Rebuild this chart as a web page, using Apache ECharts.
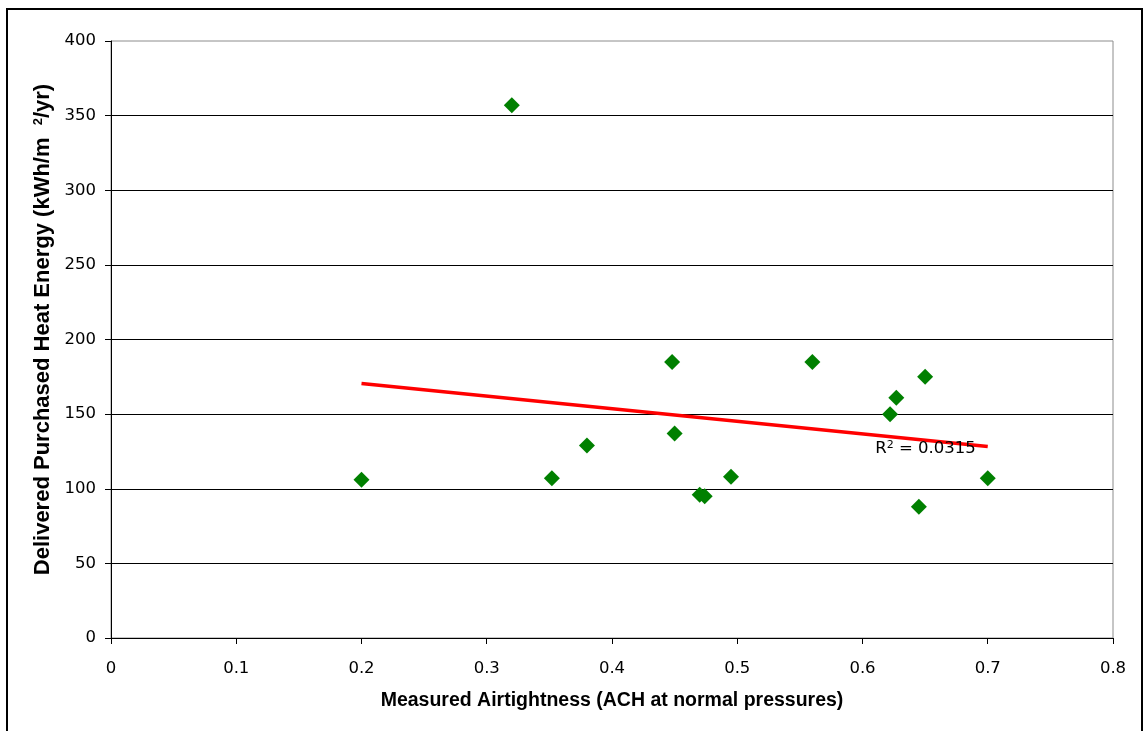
<!DOCTYPE html>
<html>
<head>
<meta charset="utf-8">
<script src="https://cdn.jsdelivr.net/npm/echarts@6/dist/echarts.min.js"></script>
<style>html,body{margin:0;padding:0;background:#fff}#c{width:1147px;height:731px}</style>
</head>
<body>
<div id="c"></div>
<script>
const airtightness = [0.2, 0.32, 0.352, 0.38, 0.448, 0.45, 0.47, 0.474, 0.495, 0.56, 0.622, 0.627, 0.645, 0.65, 0.7];
const heatEnergy   = [106, 357, 107, 129, 185, 137, 96, 95, 108, 185, 150, 161, 88, 175, 107];
const xTicks = { min: 0, max: 0.8, interval: 0.1 };
const yTicks = { min: 0, max: 400, interval: 50 };
const xTitle = 'Measured Airtightness (ACH at normal pressures)';
const yTitleMain = 'Delivered Purchased Heat Energy (kWh/m  ';
const yTitleTail = '/yr)';
const r2Text = ' = 0.0315';

// linear least-squares trendline
const n = airtightness.length;
const mx = airtightness.reduce((a, b) => a + b, 0) / n;
const my = heatEnergy.reduce((a, b) => a + b, 0) / n;
let sxy = 0, sxx = 0;
for (let i = 0; i < n; i++) { sxy += (airtightness[i] - mx) * (heatEnergy[i] - my); sxx += (airtightness[i] - mx) ** 2; }
const slope = sxy / sxx, icpt = my - slope * mx;
const xMin = Math.min(...airtightness), xMax = Math.max(...airtightness);
const trend = [[xMin, icpt + slope * xMin], [xMax, icpt + slope * xMax]];

const tickFont = { fontFamily: 'DejaVu Sans', fontSize: 16.5, color: '#000' };
const chart = echarts.init(document.getElementById('c'), null, { renderer: 'canvas' });
chart.setOption({
  animation: false,
  backgroundColor: '#fff',
  graphic: [{ type: 'rect', shape: { x: 7, y: 9, width: 1135, height: 800 }, style: { fill: 'none', stroke: '#000', lineWidth: 2 }, z: 100 }],
  grid: { left: 111, top: 41, right: 34, bottom: 93, show: true, borderColor: '#8c8c8c', borderWidth: 1, backgroundColor: '#fff' },
  xAxis: {
    type: 'value', min: xTicks.min, max: xTicks.max, interval: xTicks.interval,
    name: xTitle, nameLocation: 'middle', nameGap: 53,
    nameTextStyle: { fontFamily: 'Liberation Sans', fontWeight: 'bold', fontSize: 19.5, color: '#000' },
    axisLine: { show: true, onZero: false, lineStyle: { color: '#000', width: 1 } },
    axisTick: { show: true, inside: false, length: 6, lineStyle: { color: '#000' } },
    axisLabel: Object.assign({ margin: 22, formatter: v => String(+v.toFixed(1)) }, tickFont),
    splitLine: { show: false }
  },
  yAxis: {
    type: 'value', min: yTicks.min, max: yTicks.max, interval: yTicks.interval,
    name: '{t|' + yTitleMain + '}{s|2}{t|' + yTitleTail + '}', nameLocation: 'middle', nameGap: 55,
    nameTextStyle: { padding: [0, 0, 0, 20], rich: {
      t: { fontFamily: 'Liberation Sans', fontWeight: 'bold', fontSize: 22, color: '#000' },
      s: { fontFamily: 'Liberation Sans', fontWeight: 'bold', fontSize: 13, color: '#000', verticalAlign: 'top' }
    } },
    axisLine: { show: true, onZero: false, lineStyle: { color: '#000', width: 1 } },
    axisTick: { show: true, inside: false, length: 6, lineStyle: { color: '#000' } },
    axisLabel: Object.assign({ margin: 15 }, tickFont),
    splitLine: { show: true, showMaxLine: false, lineStyle: { color: '#000', width: 1 } }
  },
  series: [
    {
      type: 'line', data: trend, symbol: 'none', z: 2,
      lineStyle: { color: '#ff0000', width: 3.5 },
      markPoint: {
        symbol: 'circle', symbolSize: 0, silent: true,
        data: [{ coord: trend[1] }],
        label: {
          show: true, position: 'left', distance: 12, offset: [0, 2],
          formatter: '{r|R}{s|2}{r|' + r2Text + '}',
          rich: {
            r: { fontFamily: 'DejaVu Sans', fontSize: 16.5, color: '#000' },
            s: { fontFamily: 'DejaVu Sans', fontSize: 11, color: '#000', verticalAlign: 'top' }
          }
        }
      }
    },
    {
      type: 'scatter', z: 3, symbol: 'diamond', symbolSize: 16,
      itemStyle: { color: '#008000', opacity: 1 },
      data: airtightness.map((x, i) => [x, heatEnergy[i]])
    }
  ]
});
</script>
</body>
</html>
